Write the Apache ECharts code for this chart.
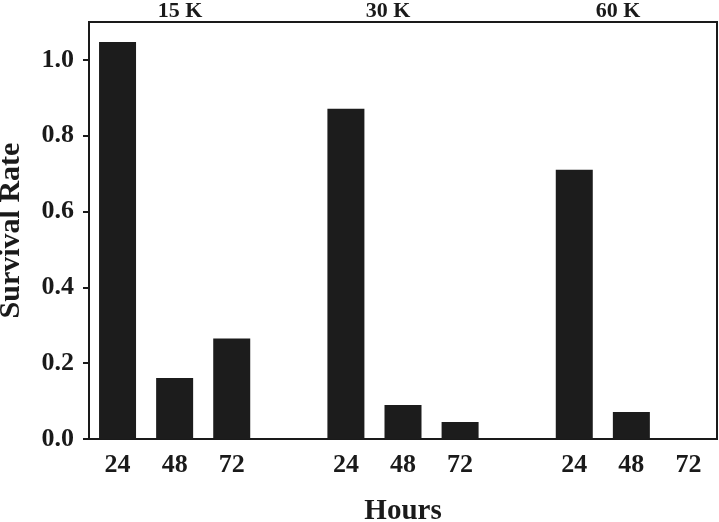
<!DOCTYPE html>
<html>
<head>
<meta charset="utf-8">
<script src="https://cdn.jsdelivr.net/npm/echarts@6/dist/echarts.min.js"></script>
<style>
  html, body { margin: 0; padding: 0; background: #fff; }
  #chart { width: 719px; height: 522px; }
</style>
</head>
<body>
<div id="chart"></div>
<script>
// groups of exposure and the hours measured in each
const groups = ['15 K', '30 K', '60 K'];
const hours = ['24', '48', '72'];
const rate15 = [1.047, 0.161, 0.265];
const rate30 = [0.871, 0.090, 0.045];
const rate60 = [0.710, 0.071, 0];
const yTicks = [0, 0.2, 0.4, 0.6, 0.8, 1.0];

// flatten into one category axis with an empty slot between groups
const categories = [];
const values = [];
[rate15, rate30, rate60].forEach((rates, g) => {
  if (g > 0) {
    categories.push('gap' + g);
    values.push(null);
  }
  hours.forEach((h, i) => {
    categories.push(groups[g] + '|' + h);
    values.push(rates[i]);
  });
});

const font = 'Liberation Serif';
const groupFont = 'bold 22px "Liberation Serif"';
const chart = echarts.init(document.getElementById('chart'));

chart.setOption({
  backgroundColor: '#fff',
  animation: false,
  grid: {
    left: 89, right: 2, top: 22, bottom: 83,
    containLabel: false,
    outerBoundsMode: 'none',
    show: true,
    borderColor: '#1a1a1a',
    borderWidth: 2
  },
  xAxis: {
    type: 'category',
    data: categories,
    name: 'Hours',
    nameLocation: 'middle',
    nameGap: 58,
    nameTextStyle: { fontFamily: font, fontWeight: 'bold', fontSize: 29, color: '#1a1a1a' },
    axisLine: { lineStyle: { color: '#1a1a1a', width: 2 } },
    axisTick: { show: false },
    axisLabel: {
      interval: 0,
      margin: 13,
      fontFamily: font, fontWeight: 'bold', fontSize: 26, color: '#1a1a1a',
      formatter: (v) => v.indexOf('|') >= 0 ? v.split('|')[1] : ''
    }
  },
  yAxis: {
    type: 'value',
    min: 0,
    max: 1.1,
    interval: 0.2,
    name: 'Survival Rate',
    nameLocation: 'middle',
    nameGap: 63,
    nameTextStyle: { fontFamily: font, fontWeight: 'bold', fontSize: 30, color: '#1a1a1a' },
    axisLine: { show: true, lineStyle: { color: '#1a1a1a', width: 2 } },
    axisTick: { show: true, length: 6, inside: false, lineStyle: { color: '#1a1a1a', width: 2 } },
    splitLine: { show: false },
    axisLabel: {
      margin: 15,
      showMaxLabel: false,
      fontFamily: font, fontWeight: 'bold', fontSize: 26, color: '#1a1a1a',
      formatter: (v) => yTicks.some(t => Math.abs(t - v) < 1e-9) ? v.toFixed(1) : ''
    }
  },
  series: [{
    type: 'bar',
    data: values,
    barWidth: 37,
    itemStyle: { color: '#1c1c1c' }
  }],
  graphic: [
    { type: 'text', x: 180, y: 11, style: { text: groups[0], font: groupFont, fill: '#1a1a1a', align: 'center', verticalAlign: 'middle' } },
    { type: 'text', x: 388, y: 11, style: { text: groups[1], font: groupFont, fill: '#1a1a1a', align: 'center', verticalAlign: 'middle' } },
    { type: 'text', x: 618, y: 11, style: { text: groups[2], font: groupFont, fill: '#1a1a1a', align: 'center', verticalAlign: 'middle' } }
  ]
});
</script>
</body>
</html>
